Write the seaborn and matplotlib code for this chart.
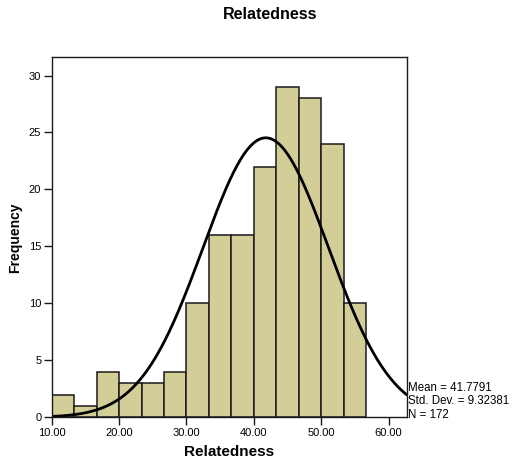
import numpy as np
import pandas as pd
import matplotlib
matplotlib.use("Agg")
import matplotlib.pyplot as plt
import seaborn as sns

# ---- data ----
bin_start = 10.0
bin_width = 10.0 / 3.0
counts = [2, 1, 4, 3, 3, 4, 10, 16, 16, 22, 29, 28, 24, 10]
mean_val = 41.7791
sd_val = 9.32381
n_val = 172
x_ticks = [10, 20, 30, 40, 50, 60]
y_ticks = [0, 5, 10, 15, 20, 25, 30]

sns.set_theme(style="ticks")
plt.rcParams['font.family'] = ['Liberation Sans', 'DejaVu Sans']
plt.rcParams.update({"text.color": "black", "axes.labelcolor": "black",
                     "xtick.color": "black", "ytick.color": "black",
                     "xtick.labelcolor": "black", "ytick.labelcolor": "black"})

edges = [float(bin_start + bin_width * i) for i in range(len(counts) + 1)]
centers = [(edges[i] + edges[i + 1]) / 2 for i in range(len(counts))]
df = pd.DataFrame({"Relatedness": centers, "count": counts})

fig = plt.figure(figsize=(5.13, 4.68), dpi=100)
ax = fig.add_axes([0.1008, 0.1083, 0.6920, 0.7693])

sns.histplot(data=df, x="Relatedness", weights="count", bins=edges,
             color="#D3CE97", edgecolor="#1a1a1a", linewidth=1.1,
             alpha=1.0, ax=ax)

# fitted normal curve
xs = np.linspace(10, 62.7, 300)
ys = n_val * bin_width / (sd_val * np.sqrt(2 * np.pi)) * np.exp(-0.5 * ((xs - mean_val) / sd_val) ** 2)
sns.lineplot(x=xs, y=ys, color="black", linewidth=2.0, ax=ax)

ax.set_xlim(10, 62.7)
ax.set_ylim(0, 31.6)
ax.set_xticks(x_ticks)
ax.set_xticklabels([f"{v:.2f}" for v in x_ticks], fontsize=8)
ax.set_yticks(y_ticks)
ax.set_yticklabels([str(v) for v in y_ticks], fontsize=8)
ax.tick_params(axis="both", direction="out", length=5.5, width=1.0, color="#1a1a1a", pad=2)

for s in ax.spines.values():
    s.set_visible(True)
    s.set_linewidth(1.0)
    s.set_color("#1a1a1a")

ax.set_xlabel("Relatedness", fontsize=11, fontweight="bold", labelpad=5)
ax.set_ylabel("Frequency", fontsize=10, fontweight="bold", labelpad=5)
fig.text(0.526, 0.968, "Relatedness", ha="center", va="center", fontsize=11.5, fontweight="bold")

stats = f"Mean = {mean_val}\nStd. Dev. = {sd_val}\nN = {n_val}"
fig.text(408 / 513, 1 - 401.5 / 468, stats, ha="left", va="center", fontsize=8.3,
         linespacing=1.2)

fig.savefig("out.png", dpi=100)
